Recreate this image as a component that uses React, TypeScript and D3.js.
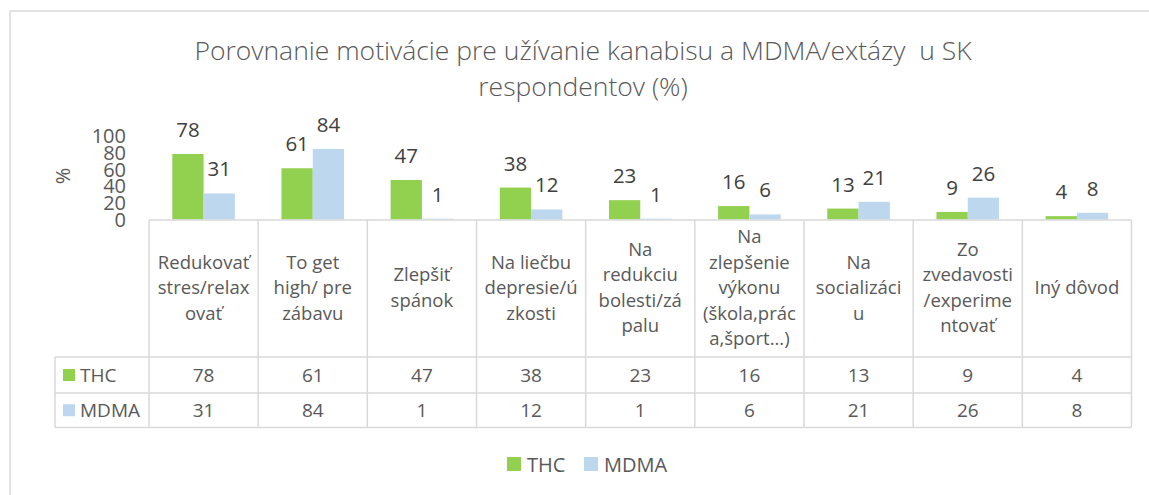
import React from "react";
import { scaleBand, scaleLinear } from "d3";

const categories = [
  "Redukovať\nstres/relax\novať",
  "To get\nhigh/ pre\nzábavu",
  "Zlepšiť\nspánok",
  "Na liečbu\ndepresie/ú\nzkosti",
  "Na\nredukciu\nbolesti/zá\npalu",
  "Na\nzlepšenie\nvýkonu\n(škola,prác\na,šport...)",
  "Na\nsocializáci\nu",
  "Zo\nzvedavosti\n/experime\nntovať",
  "Iný dôvod",
];
const series = ["THC", "MDMA"];
const thc = [78, 61, 47, 38, 23, 16, 13, 9, 4];
const mdma = [31, 84, 1, 12, 1, 6, 21, 26, 8];
const yTicks = [0, 20, 40, 60, 80, 100];
const colors = ["#92d050", "#bdd7ee"];
const titleLines = ["Porovnanie motivácie pre užívanie kanabisu a MDMA/extázy  u SK", "respondentov (%)"];

const App = () => {
  const width = 1149;
  const height = 495;
  const font = "'Open Sans', sans-serif";
  const grid = "#d9d9d9";
  const textColor = "#595959";
  const values = [thc, mdma];

  const tableLeft = 55;
  const plotLeft = 149;
  const plotRight = 1131.5;
  const headerTop = 220;
  const headerBottom = 357;
  const rowBottoms = [393, 427.5];

  const x = scaleBand().domain(categories).range([plotLeft, plotRight]).padding(0);
  const xSub = scaleBand().domain(series).range([0, x.bandwidth()]).paddingInner(0).paddingOuter(0.745);
  const y = scaleLinear().domain([0, 100]).range([219.5, 135.5]);

  const bars = series.map((s, si) =>
    categories.map((c, ci) => {
      const v = values[si][ci];
      return (
        <g key={s + ci}>
          <rect x={x(c)! + xSub(s)!} y={y(v)} width={xSub.bandwidth()} height={y(0) - y(v)} fill={colors[si]} />
          <text
            x={x(c)! + xSub(s)! + xSub.bandwidth() / 2}
            y={y(v) - 25}
            textAnchor="middle"
            dominantBaseline="central"
            fontSize={20.5}
            fill="#404040"
          >
            {v}
          </text>
        </g>
      );
    })
  );

  const ticks = yTicks.map((t) => (
    <text key={t} x={126} y={y(t)} textAnchor="end" dominantBaseline="central" fontSize={20} fill={textColor}>
      {t}
    </text>
  ));

  const headerMid = (headerTop + headerBottom) / 2;
  const lineH = 25.5;
  const headers = categories.map((c) => {
    const lines = c.split("\n");
    const cx = x(c)! + x.bandwidth() / 2;
    return (
      <text key={c} textAnchor="middle" fontSize={18.5} fill={textColor}>
        {lines.map((l, i) => (
          <tspan key={i} x={cx} y={headerMid - 2 + (i - (lines.length - 1) / 2) * lineH} dominantBaseline="central">
            {l}
          </tspan>
        ))}
      </text>
    );
  });

  const rowTops = [headerBottom, rowBottoms[0]];
  const rows = series.map((s, si) => {
    const cy = (rowTops[si] + rowBottoms[si]) / 2;
    return (
      <g key={s}>
        <rect x={63} y={cy - 6} width={12} height={12} fill={colors[si]} />
        <text x={80} y={cy} dominantBaseline="central" fontSize={19} fill={textColor}>
          {s}
        </text>
        {categories.map((c, ci) => (
          <text
            key={c}
            x={x(c)! + x.bandwidth() / 2}
            y={cy}
            textAnchor="middle"
            dominantBaseline="central"
            fontSize={19}
            fill={textColor}
          >
            {values[si][ci]}
          </text>
        ))}
      </g>
    );
  });

  const vLines = categories.map((c) => (
    <line key={c} x1={x(c)! + x.bandwidth()} x2={x(c)! + x.bandwidth()} y1={headerTop} y2={rowBottoms[1]} stroke={grid} strokeWidth={1.5} />
  ));

  const legendX = [507, 584];
  const legend = series.map((s, si) => (
    <g key={s}>
      <rect x={legendX[si]} y={457} width={14} height={14} fill={colors[si]} />
      <text x={legendX[si] + 20} y={464} dominantBaseline="central" fontSize={20} fill={textColor}>
        {s}
      </text>
    </g>
  ));

  return (
    <svg
      width={width}
      height={height}
      viewBox={`0 0 ${width} ${height}`}
      style={{ position: "absolute", left: 0, top: 0, fontFamily: font, background: "#fff" }}
    >
      <line x1={10} x2={width} y1={11} y2={11} stroke={grid} strokeWidth={1.5} />
      <line x1={10} x2={10} y1={11} y2={height} stroke={grid} strokeWidth={1.5} />

      {titleLines.map((t, i) => (
        <text
          key={i}
          x={583}
          y={50 + i * 36}
          textAnchor="middle"
          dominantBaseline="central"
          fontSize={26.5}
          fontWeight={300}
          fill={textColor}
          style={{ whiteSpace: "pre" }}
        >
          {t}
        </text>
      ))}

      <text transform="translate(62,176) rotate(-90)" textAnchor="middle" dominantBaseline="central" fontSize={20} fill={textColor}>
        %
      </text>

      {ticks}
      {bars}

      <line x1={plotLeft} x2={plotRight} y1={headerTop} y2={headerTop} stroke={grid} strokeWidth={1.5} />
      <line x1={plotLeft} x2={plotLeft} y1={headerTop} y2={rowBottoms[1]} stroke={grid} strokeWidth={1.5} />
      <line x1={tableLeft} x2={tableLeft} y1={headerBottom} y2={rowBottoms[1]} stroke={grid} strokeWidth={1.5} />
      {[headerBottom, ...rowBottoms].map((ry) => (
        <line key={ry} x1={tableLeft} x2={plotRight} y1={ry} y2={ry} stroke={grid} strokeWidth={1.5} />
      ))}
      {vLines}
      {headers}
      {rows}
      {legend}
    </svg>
  );
};

export default App;
